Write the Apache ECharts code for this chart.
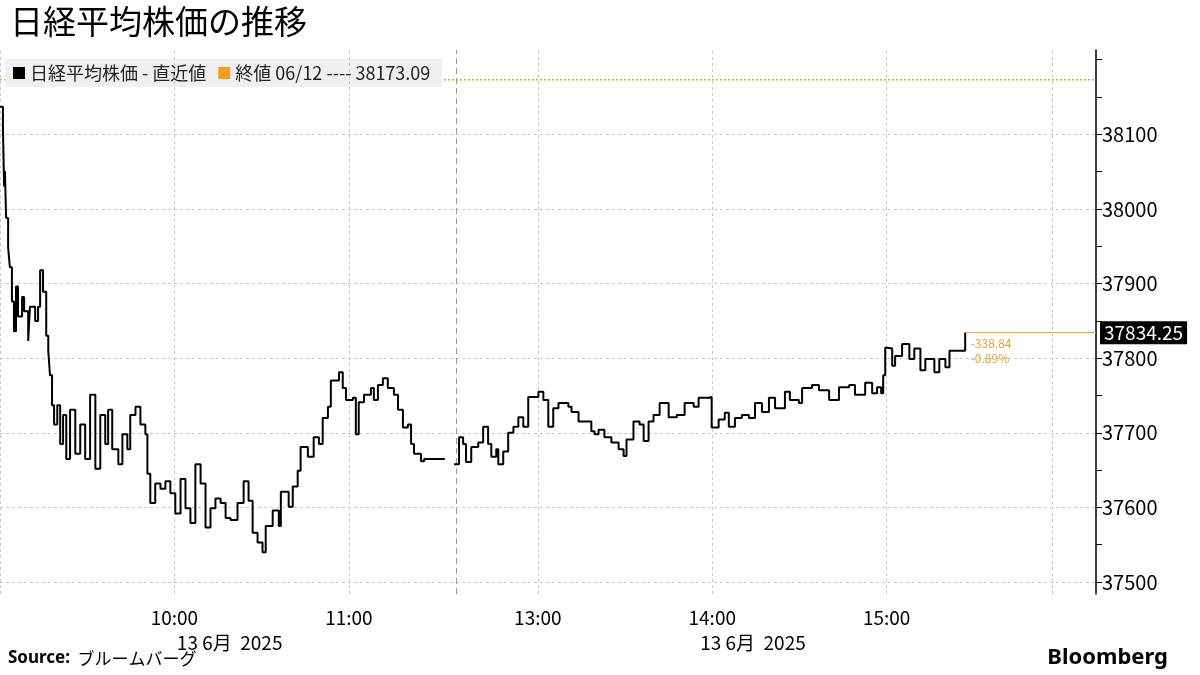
<!DOCTYPE html>
<html>
<head>
<meta charset="utf-8">
<script src="https://cdn.jsdelivr.net/npm/echarts@6/dist/echarts.min.js"></script>
<style>
  html, body { margin: 0; padding: 0; background: #fff; }
  #chart { width: 1200px; height: 675px; }
</style>
</head>
<body>
<div id="chart"></div>
<script>
// morning session: minutes after 9:00
const amMinutes = [0, 1, 1.4, 1.7, 2.1, 2.8, 3.4, 4.1, 4.8, 5.5, 6.2, 7.6, 8.3, 9.7, 10.3, 12.1, 13.1, 13.8, 14.8, 15.9,
    16.6, 17.2, 17.9, 18.6, 19.7, 20.7, 21.7, 22.8, 24.1, 25.9, 27.6, 29.3, 31, 32.8, 34.5, 36.2, 37.2, 38.6, 40.7, 42.1,
    43.8, 44.8, 46.6, 48.3, 50, 50.7, 51.7, 53.4, 55.2, 56.9, 58.6, 60.3, 62.1, 63.8, 65.5, 67.2, 69, 70.7, 72.4, 74.1,
    75.9, 77.6, 79.3, 81.7, 83.8, 85.5, 86.9, 88.6, 90.3, 91.4, 93.8, 95.9, 96.6, 99.3, 100.7, 102.4, 103.4, 105.9, 107.9, 109.7,
    111, 112.8, 113.8, 116.6, 117.9, 119, 121.4, 122.4, 123.4, 125.2, 127.6, 128.6, 130, 131.7, 133.4, 135.5, 136.9, 138.6, 140.3, 141.4,
    142.4, 144.8, 145.9, 151.7];
const amValues = [38137, 38111, 38030, 38051, 37988, 37948, 37922, 37876, 37836, 37896, 37856, 37882, 37863, 37823, 37869, 37850, 37869, 37918, 37889, 37830,
    37810, 37777, 37737, 37711, 37737, 37685, 37724, 37665, 37731, 37672, 37711, 37665, 37751, 37652, 37724, 37685, 37731, 37678, 37658, 37698,
    37678, 37724, 37735, 37711, 37698, 37645, 37606, 37632, 37625, 37635, 37619, 37592, 37638, 37599, 37579, 37658, 37632, 37573, 37599, 37612,
    37606, 37586, 37583, 37606, 37635, 37609, 37566, 37553, 37540, 37575, 37596, 37575, 37621, 37601, 37628, 37649, 37681, 37668, 37694, 37685,
    37720, 37735, 37770, 37781, 37760, 37744, 37747, 37698, 37741, 37751, 37760, 37744, 37764, 37773, 37760, 37751, 37731, 37707, 37711, 37685,
    37672, 37662, 37665, 37665];
// afternoon session: minutes after 12:30
const pmMinutes = [1.2, 2.9, 4.3, 5.3, 7.1, 9.5, 11.2, 12.9, 14, 15.7, 16.4, 18.1, 19.8, 21.6, 23.3, 25, 26.7, 30.2, 31.9, 33.6,
    35.3, 37.1, 38.1, 40.5, 41.6, 44, 46, 48.4, 49.5, 50.9, 52.9, 55.3, 57.8, 59.5, 60.5, 62.9, 65, 66.4, 68.1, 69.8,
    71.9, 75, 77.8, 80.5, 83.6, 85.3, 88.8, 89.8, 92.2, 94.3, 95.7, 97.8, 100.2, 102.6, 104.7, 107.1, 109.5, 111.6, 115, 116.7,
    119.8, 120.9, 124.3, 126.7, 130.2, 133.6, 137.1, 139.1, 142.6, 145, 146.7, 148.1, 148.8, 149.5, 150.2, 151.9, 152.9, 155.3, 157.8, 159.5,
    161.6, 163.3, 166.4, 168.1, 170.2, 171.6, 176, 177];
const pmValues = [37658, 37694, 37685, 37661, 37681, 37687, 37708, 37685, 37668, 37678, 37658, 37675, 37700, 37708, 37721, 37708, 37748, 37755, 37744, 37708,
    37733, 37740, 37740, 37735, 37728, 37715, 37715, 37702, 37698, 37704, 37694, 37687, 37678, 37669, 37691, 37715, 37711, 37689, 37715, 37724,
    37740, 37721, 37724, 37740, 37735, 37747, 37748, 37707, 37718, 37727, 37708, 37720, 37724, 37720, 37740, 37728, 37747, 37733, 37755, 37744,
    37740, 37760, 37764, 37757, 37744, 37761, 37764, 37751, 37767, 37753, 37761, 37753, 37777, 37814, 37813, 37790, 37803, 37819, 37799, 37813,
    37784, 37799, 37781, 37799, 37788, 37810, 37810, 37834.25];
const prevClose = 38173.09;
const lastValue = 37834.25;
const yLabels = [37500, 37600, 37700, 37800, 37900, 38000, 38100];
const yTicks = [37500, 37550, 37600, 37650, 37700, 37750, 37800, 37850, 37900, 37950, 38000, 38050, 38100, 38150, 38200];
const timeTicks = [60, 120, 185, 245, 305];
const timeLabels = ['10:00', '11:00', '13:00', '14:00', '15:00'];

const PM_OFFSET = 155; // afternoon plotted right after the lunch gap
const lineData = amMinutes.map((m, i) => [m, amValues[i]])
    .concat([[153, null]])
    .concat(pmMinutes.map((m, i) => [m + PM_OFFSET, pmValues[i]]));
const lastX = pmMinutes[pmMinutes.length - 1] + PM_OFFSET;

const font = 'Noto Sans CJK JP, Noto Sans, sans-serif';
const grid = '#c8c8c8';

echarts.init(document.querySelector('#chart')).setOption({
    animation: false,
    textStyle: { fontFamily: font },
    title: {
        text: '日経平均株価の推移',
        left: 5, top: 0,
        textStyle: { fontSize: 33, fontWeight: 'normal', color: '#000', fontFamily: font }
    },
    legend: {
        left: 5, top: 59,
        padding: [5, 12, 5, 8],
        backgroundColor: '#f0f0f0',
        itemWidth: 12, itemHeight: 12, itemGap: 12,
        icon: 'rect',
        textStyle: { fontSize: 18, color: '#222' },
        data: ['日経平均株価 - 直近値', '終値 06/12 ---- 38173.09']
    },
    graphic: [
        {
            type: 'text', left: 8, bottom: 8,
            style: {
                text: '{b|Source:}  ブルームバーグ',
                rich: { b: { fontWeight: 'bold', fontSize: 17, fontFamily: 'Noto Sans' } },
                fontSize: 17, fill: '#000', fontFamily: font
            }
        },
        {
            type: 'text', right: 32, bottom: 6,
            style: { text: 'Bloomberg', fontSize: 22, fontWeight: 'bold', fill: '#000', fontFamily: 'Noto Sans' }
        }
    ],
    grid: { left: 0, right: 104, top: 50, bottom: 81 },
    xAxis: [{
        type: 'value', min: 0, max: 377,
        axisLine: { show: false },
        axisTick: { show: false },
        splitLine: { show: false },
        axisLabel: {
            customValues: timeTicks,
            formatter: v => timeLabels[timeTicks.indexOf(v)] || '',
            fontSize: 19, color: '#000', margin: 14
        }
    }, {
        type: 'value', min: 0, max: 377, position: 'bottom', offset: 25,
        axisLine: { show: false },
        axisTick: { show: false },
        splitLine: { show: false },
        axisLabel: {
            customValues: [79, 259],
            formatter: () => '13 6月  2025',
            fontSize: 19, color: '#000', margin: 14
        }
    }],
    yAxis: {
        type: 'value', position: 'right',
        min: 37484, max: 38213,
        axisLine: { show: true, onZero: false, lineStyle: { color: '#000', width: 1.5 } },
        axisTick: { show: true, length: 6, customValues: yTicks, lineStyle: { color: '#000' } },
        splitLine: { show: false },
        axisLabel: { customValues: yLabels, formatter: v => String(v), fontSize: 20, color: '#000', margin: 6 }
    },
    series: [{
        name: '日経平均株価 - 直近値',
        type: 'line',
        step: 'end',
        data: lineData,
        connectNulls: false,
        showSymbol: false,
        color: '#000',
        lineStyle: { color: '#000', width: 2 },
        markLine: {
            silent: true, symbol: 'none',
            label: { show: false },
            lineStyle: { color: grid, type: [3, 3], width: 1 },
            data: yLabels.map(v => ({ yAxis: v }))
                .concat([0, 60, 120, 185, 245, 305, 362].map(v => ({ xAxis: v })))
                .concat([{ xAxis: 157, lineStyle: { color: '#999', type: [6, 4], width: 1 } }])
                .concat([[
                    { coord: [lastX, lastValue], lineStyle: { color: '#f0a020', type: 'solid', width: 1 } },
                    {
                        coord: [377, lastValue],
                        label: {
                            show: true, position: 'end', formatter: '37834.25', distance: 4,
                            backgroundColor: '#000', color: '#fff', fontSize: 19, padding: [3, 4, 1, 4]
                        }
                    }
                ]])
        },
        markPoint: {
            symbol: 'circle', symbolSize: 1,
            itemStyle: { color: 'rgba(0,0,0,0)' },
            data: [{
                coord: [lastX, lastValue],
                label: {
                    show: true, position: 'right', offset: [0, 18],
                    formatter: '-338.84\n-0.89%', color: '#e8a030', fontSize: 12, lineHeight: 15
                }
            }]
        },
        z: 5
    }, {
        name: '終値 06/12 ---- 38173.09',
        type: 'line',
        data: [[0, prevClose], [377, prevClose]],
        showSymbol: false,
        color: '#f0a020',
        lineStyle: { color: '#f0a020', type: [2, 2], width: 1.5 },
        z: 3
    }]
});
</script>
</body>
</html>
